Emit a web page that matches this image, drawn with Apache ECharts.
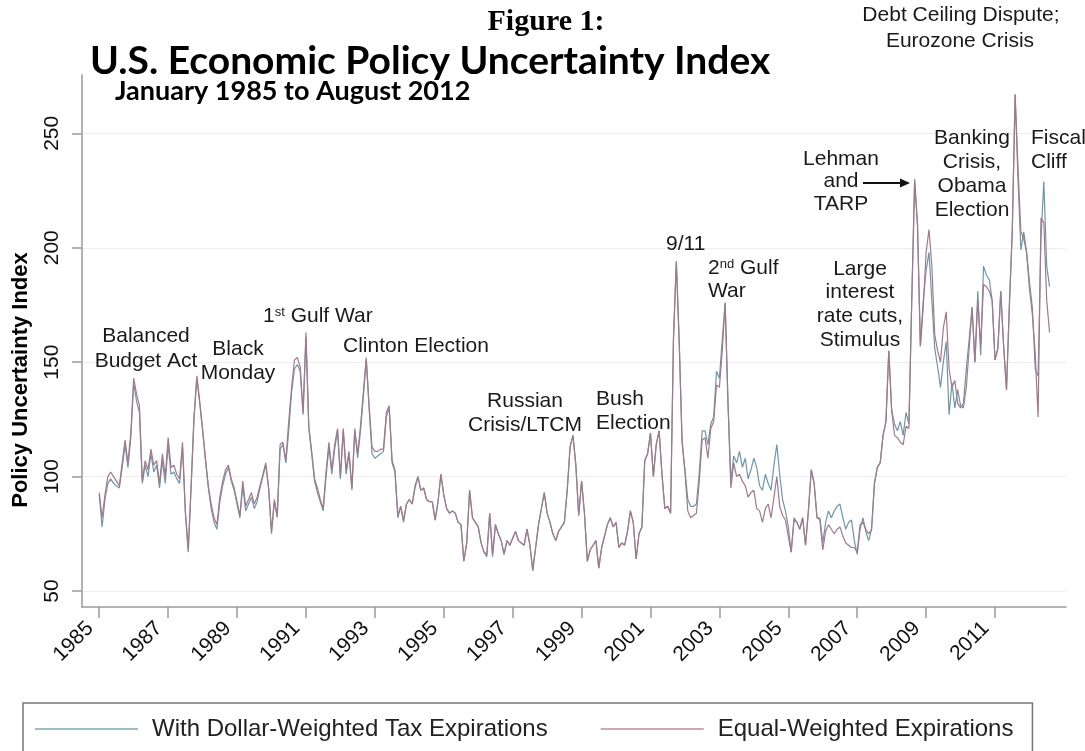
<!DOCTYPE html>
<html>
<head>
<meta charset="utf-8">
<script src="https://cdn.jsdelivr.net/npm/echarts@6.0.0/dist/echarts.min.js"></script>
<style>
  html, body { margin: 0; padding: 0; background: #fff; }
  #main { width: 1085px; height: 751px; }
</style>
</head>
<body>
<div id="main"></div>
<script type="text/javascript">
  // monthly index, January 1985 .. August 2012
  var startYear = 1985;
  var dollarWeighted = [
    92, 78, 90, 97, 99, 97, 96, 95, 104, 114, 104, 117,      // 1985
    141, 133, 128, 97, 105, 100, 110, 102, 105, 95, 107, 97, // 1986
    114, 101, 102, 99, 97, 113, 84, 67, 95, 125, 143, 132,   // 1987
    120, 107, 95, 86, 80, 77, 89, 96, 101, 104, 98, 94,      // 1988
    88, 82, 96, 85, 88, 91, 86, 89, 95, 100, 105, 95,        // 1989
    75, 89, 82, 112, 114, 106, 120, 137, 147, 149, 146, 127, // 1990
    161, 121, 110, 98, 93, 89, 85, 100, 113, 101, 112, 120,  // 1991
    99, 120, 101, 110, 94, 120, 108, 120, 135, 151, 130, 110,// 1992
    108, 109, 110, 111, 126, 130, 106, 102, 82, 87, 80, 88,  // 1993
    90, 88, 95, 100, 94, 95, 90, 89, 89, 81, 89, 101,        // 1994
    92, 86, 84, 85, 84, 80, 79, 63, 71, 94, 82, 80,          // 1995
    78, 71, 67, 65, 84, 65, 79, 75, 72, 66, 72, 70,          // 1996
    73, 76, 72, 71, 70, 77, 70, 59, 69, 79, 86, 93,          // 1997
    84, 80, 75, 72, 76, 78, 80, 94, 113, 118, 105, 83,       // 1998
    98, 84, 63, 68, 70, 72, 60, 69, 74, 79, 82, 78,          // 1999
    80, 69, 71, 70, 76, 85, 80, 64, 75, 78, 107, 110,        // 2000
    119, 100, 114, 120, 101, 86, 87, 84, 160, 194, 160, 116, // 2001
    103, 90, 87, 87, 88, 102, 120, 120, 114, 123, 126, 146,  // 2002
    143, 160, 176, 132, 98, 109, 106, 111, 104, 108, 99, 103,// 2003
    108, 104, 96, 94, 101, 97, 94, 105, 114, 101, 90, 85,    // 2004
    78, 67, 82, 80, 77, 82, 70, 85, 103, 97, 82, 82,         // 2005
    71, 80, 85, 82, 85, 87, 88, 82, 77, 80, 81, 72,          // 2006
    66, 77, 82, 76, 72, 77, 97, 104, 106, 118, 124, 155,     // 2007
    129, 123, 120, 124, 118, 128, 123, 177, 230, 210, 157, 177, // 2008
    190, 198, 177, 156, 148, 139, 150, 159, 127, 141, 130, 138, // 2009
    131, 130, 139, 156, 174, 150, 181, 153, 192, 188, 186, 177, // 2010
    151, 156, 181, 157, 138, 175, 207, 267, 230, 199, 207, 198, // 2011
    185, 174, 147, 144, 204, 229, 192, 183                      // 2012
  ];
  var equalWeighted = [
    93, 82, 92, 100, 102, 100, 98, 96, 106, 116, 106, 119,
    143, 136, 131, 98, 107, 103, 112, 105, 107, 97, 110, 100,
    117, 104, 105, 101, 99, 115, 85, 68, 96, 126, 144, 133,
    121, 108, 96, 88, 82, 79, 91, 98, 103, 105, 99, 95,
    89, 83, 98, 87, 90, 93, 88, 91, 96, 101, 106, 95,
    76, 90, 83, 114, 115, 107, 124, 139, 151, 152, 148, 128,
    163, 122, 111, 99, 95, 90, 86, 102, 115, 103, 114, 121,
    100, 121, 103, 111, 95, 121, 110, 122, 137, 152, 131, 113,
    111, 111, 112, 112, 128, 131, 107, 103, 83, 87, 81, 88,
    90, 88, 96, 100, 94, 95, 90, 89, 89, 81, 89, 101,
    92, 86, 84, 85, 84, 80, 79, 63, 71, 94, 82, 80,
    78, 71, 67, 66, 84, 66, 79, 75, 72, 66, 72, 70,
    73, 76, 72, 71, 70, 77, 70, 59, 69, 79, 86, 93,
    84, 80, 75, 72, 76, 78, 80, 94, 113, 118, 105, 83,
    98, 84, 63, 68, 70, 72, 60, 69, 74, 79, 82, 78,
    80, 69, 71, 70, 76, 85, 80, 64, 75, 78, 107, 110,
    119, 100, 114, 120, 101, 86, 87, 84, 160, 194, 158, 115,
    102, 85, 82, 83, 84, 98, 116, 117, 108, 121, 124, 140,
    139, 155, 176, 132, 95, 106, 100, 101, 98, 96, 91, 93,
    94, 86, 85, 80, 86, 88, 82, 91, 100, 87, 83, 81,
    74, 67, 81, 80, 77, 82, 70, 85, 103, 97, 82, 81,
    68, 76, 79, 77, 75, 77, 78, 74, 71, 70, 69, 69,
    67, 79, 80, 77, 75, 77, 97, 104, 106, 118, 124, 155,
    129, 118, 117, 115, 114, 122, 121, 177, 229, 210, 157, 174,
    198, 208, 192, 162, 155, 150, 165, 172, 147, 139, 142, 132,
    130, 132, 147, 160, 174, 150, 177, 157, 184, 183, 181, 177,
    151, 156, 181, 157, 138, 175, 207, 267, 235, 207, 204, 198,
    182, 171, 154, 126, 213, 211, 177, 163
  ];
  var tickYears = [1985, 1987, 1989, 1991, 1993, 1995, 1997, 1999, 2001, 2003, 2005, 2007, 2009, 2011];
  var yTicks = [50, 100, 150, 200, 250];
  var seriesNames = ['With Dollar-Weighted Tax Expirations', 'Equal-Weighted Expirations'];

  function toPoints(arr) {
    return arr.map(function (v, i) { return [startYear + i / 12, v]; });
  }

  var sans = 'Liberation Sans, Arial, sans-serif';
  function note(text, x, y, align) {
    return {
      type: 'text', x: x, y: y, z: 10,
      style: { text: text, fill: '#1a1a1a', fontSize: 21, fontFamily: sans, align: align || 'center', verticalAlign: 'middle' }
    };
  }
  function supNote(a, b, c, x, y) {
    return {
      type: 'text', x: x, y: y, z: 10,
      style: {
        text: '{n|' + a + '}{s|' + b + '}{n|' + c + '}',
        fill: '#1a1a1a', fontFamily: sans, align: 'left', verticalAlign: 'middle',
        rich: { n: { fontSize: 21, fontFamily: sans, fill: '#1a1a1a' }, s: { fontSize: 13, fontFamily: sans, fill: '#1a1a1a', verticalAlign: 'top' } }
      }
    };
  }

  var axisGrey = '#9a9a9a';
  var myChart = echarts.init(document.getElementById('main'));
  var option = {
    animation: false,
    backgroundColor: '#fff',
    grid: { left: 82, right: 19, top: 75, bottom: 144, containLabel: false },
    xAxis: {
      type: 'value', min: 1984.5, max: 2013.06,
      axisLine: { lineStyle: { color: axisGrey, width: 1.5 } },
      axisTick: { show: true, length: 11, customValues: tickYears, lineStyle: { color: axisGrey, width: 1.5 } },
      axisLabel: {
        customValues: tickYears, rotate: 45, margin: 9, padding: [0, 13, 0, 0],
        fontSize: 21, fontFamily: sans, color: '#111',
        formatter: function (v) { return String(v); }
      },
      splitLine: { show: false }
    },
    yAxis: {
      type: 'value', min: 43, max: 275.5,
      axisLine: { show: true, lineStyle: { color: axisGrey, width: 1.5 } },
      axisTick: { show: true, length: 10, customValues: yTicks, lineStyle: { color: axisGrey, width: 1.5 } },
      axisLabel: { customValues: yTicks, rotate: 90, margin: 19, fontSize: 21, fontFamily: sans, color: '#111' },
      splitLine: { show: true, lineStyle: { color: '#eeeeee', width: 1 } }
    },
    legend: {
      left: 23, top: 703,
      icon: 'rect',
      data: [
        { name: seriesNames[0], itemStyle: { color: '#9dbccb' } },
        { name: seriesNames[1], itemStyle: { color: '#cdaab4' } }
      ],
      itemWidth: 103, itemHeight: 2, itemGap: 53,
      padding: [14, 19, 40, 12],
      borderColor: '#777', borderWidth: 1.5,
      textStyle: { fontSize: 24, fontFamily: sans, color: '#222', padding: [0, 0, 0, 9] }
    },
    series: [
      {
        name: seriesNames[0], type: 'line', data: toPoints(dollarWeighted),
        symbol: 'none', lineStyle: { color: '#6f96a8', width: 1.2 }, itemStyle: { color: '#6f96a8' }
      },
      {
        name: seriesNames[1], type: 'line', data: toPoints(equalWeighted),
        symbol: 'none', lineStyle: { color: '#a5778a', width: 1.2 }, itemStyle: { color: '#a5778a' }
      }
    ],
    graphic: [
      { type: 'text', x: 546, y: 22, style: { text: 'Figure 1:', fontSize: 30, fontWeight: 'bold', fontFamily: 'Liberation Serif, Times New Roman, serif', fill: '#000', align: 'center', verticalAlign: 'middle' } },
      { type: 'text', x: 90, y: 61, style: { text: 'U.S. Economic Policy Uncertainty Index', fontSize: 39, fontWeight: 'bold', fontFamily: 'Lato, sans-serif', fill: '#000', align: 'left', verticalAlign: 'middle' } },
      { type: 'text', x: 115, y: 91, style: { text: 'January 1985 to August 2012', fontSize: 27, fontWeight: 'bold', fontFamily: 'Lato, sans-serif', fill: '#000', align: 'left', verticalAlign: 'middle' } },
      { type: 'text', x: 21, y: 380, rotation: Math.PI / 2, style: { text: 'Policy Uncertainty Index', fontSize: 22, fontWeight: 'bold', fontFamily: sans, fill: '#000', align: 'center', verticalAlign: 'middle' } },

      note('Balanced', 146, 336), note('Budget Act', 146, 361),
      note('Black', 238, 349), note('Monday', 238, 373),
      supNote('1', 'st', ' Gulf War', 263, 316),
      note('Clinton Election', 416, 346),
      note('Russian', 525, 401), note('Crisis/LTCM', 525, 425),
      note('Bush', 596, 399, 'left'), note('Election', 596, 423, 'left'),
      note('9/11', 666, 244, 'left'),
      supNote('2', 'nd', ' Gulf', 708, 268), note('War', 708, 291, 'left'),
      note('Large', 860, 269), note('interest', 860, 292), note('rate cuts,', 860, 316), note('Stimulus', 860, 340),
      note('Lehman', 841, 159), note('and', 841, 181), note('TARP', 841, 204),
      note('Banking', 972, 138), note('Crisis,', 972, 162), note('Obama', 972, 186), note('Election', 972, 210),
      note('Fiscal', 1031, 138, 'left'), note('Cliff', 1031, 162, 'left'),
      note('Debt Ceiling Dispute;', 961, 15), note('Eurozone Crisis', 960, 41),

      { type: 'polyline', z: 10, shape: { points: [[863, 183], [902, 183]] }, style: { stroke: '#111', lineWidth: 2 } },
      { type: 'polygon', z: 10, shape: { points: [[910, 183], [900, 178.5], [900, 187.5]] }, style: { fill: '#111' } }
    ]
  };
  myChart.setOption(option);
</script>
</body>
</html>
